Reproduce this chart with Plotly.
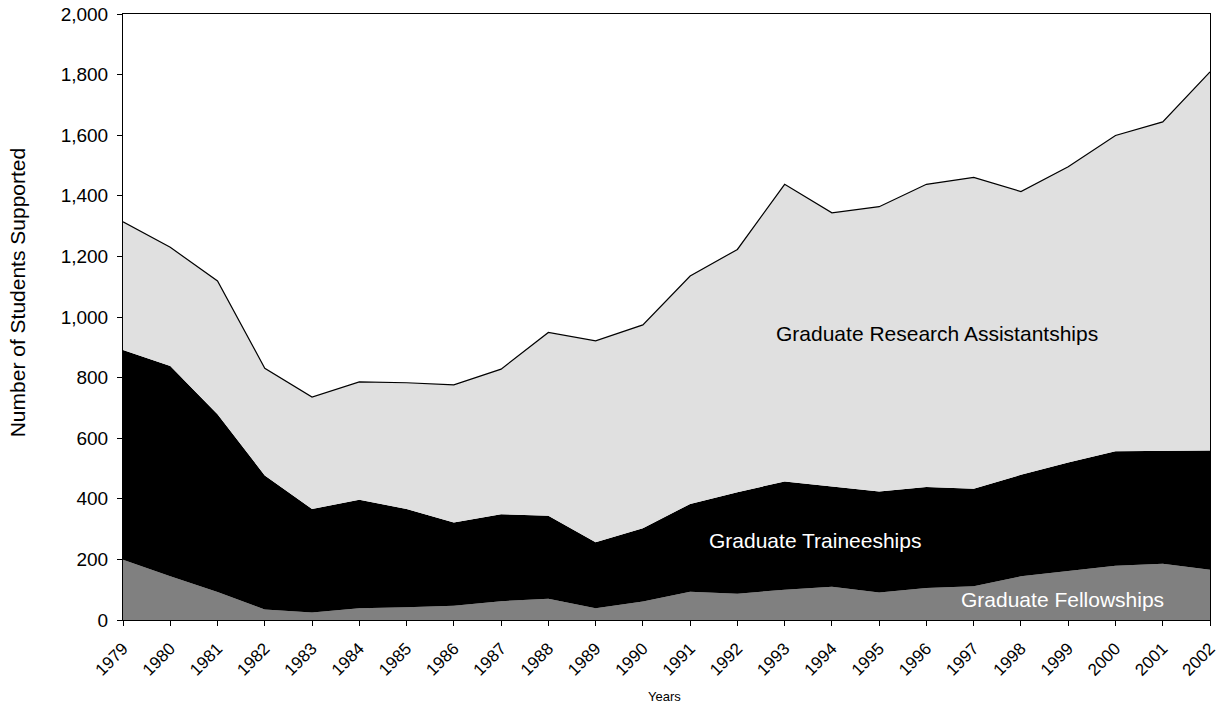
import plotly.graph_objects as go

years = list(range(1979, 2003))
year_labels = [str(y) for y in years]

fellowships = [199, 144, 92, 35, 25, 39, 42, 47, 62, 70, 39, 61, 93, 87, 100, 110, 91, 106, 111, 144, 162, 179, 186, 166]
traineeships = [692, 694, 587, 442, 341, 358, 324, 275, 287, 274, 218, 242, 290, 335, 357, 331, 333, 333, 322, 335, 358, 378, 371, 393]
research_assistantships = [423, 392, 440, 354, 370, 389, 417, 454, 479, 605, 664, 671, 752, 801, 981, 903, 940, 999, 1028, 935, 976, 1042, 1087, 1250]

FONT = "Liberation Sans, Arial, Helvetica, sans-serif"

fig = go.Figure()
fig.add_trace(go.Scatter(x=years, y=fellowships, name="Graduate Fellowships",
                         stackgroup="one", mode="lines",
                         line=dict(width=0, color="#808080"), fillcolor="#808080"))
fig.add_trace(go.Scatter(x=years, y=traineeships, name="Graduate Traineeships",
                         stackgroup="one", mode="lines",
                         line=dict(width=0, color="#000000"), fillcolor="#000000"))
fig.add_trace(go.Scatter(x=years, y=research_assistantships, name="Graduate Research Assistantships",
                         stackgroup="one", mode="lines",
                         line=dict(width=1.2, color="#000000"), fillcolor="#e0e0e0"))

fig.update_layout(
    width=1217, height=706,
    margin=dict(l=123, r=7, t=14, b=86, autoexpand=False),
    paper_bgcolor="white", plot_bgcolor="white",
    showlegend=False,
    font=dict(family=FONT, color="black"),
    xaxis=dict(range=[1979, 2002.0001], tickvals=years, ticktext=year_labels,
               tickangle=-45, ticks="outside", ticklen=5, tickcolor="black",
               ticklabelstandoff=6, ticklabeloverflow="allow", automargin=False,
               showline=True, linecolor="black", linewidth=1, mirror=True,
               showgrid=False, zeroline=False, tickfont=dict(size=17, family=FONT)),
    yaxis=dict(range=[0, 2000], dtick=200, tickformat=",", ticks="outside",
               ticklen=5, tickcolor="black", showline=True, linecolor="black",
               ticklabelstandoff=5, automargin=False,
               linewidth=1, mirror=True, showgrid=False, zeroline=False,
               tickfont=dict(size=19, family=FONT)),
    annotations=[
        dict(text="Number of Students Supported", xref="paper", yref="paper",
             x=-0.097, y=0.54, textangle=-90, showarrow=False,
             font=dict(size=21, family=FONT), xanchor="center", yanchor="middle"),
        dict(text="Years", xref="paper", yref="paper", x=0.4985, y=-0.1264,
             showarrow=False, font=dict(size=13, family=FONT),
             xanchor="center", yanchor="middle"),
        dict(text="Graduate Research Assistantships", x=1996.22, y=947,
             showarrow=False, font=dict(size=21, family=FONT, color="black")),
        dict(text="Graduate Traineeships", x=1993.64, y=261,
             showarrow=False, font=dict(size=21, family=FONT, color="white")),
        dict(text="Graduate Fellowships", x=1998.87, y=67,
             showarrow=False, font=dict(size=21, family=FONT, color="white")),
    ],
)

fig.write_html(
    "out.html",
    config={"displayModeBar": False},
    post_script="document.documentElement.style.margin='0';document.body.style.margin='0';document.body.style.overflow='hidden';",
)
